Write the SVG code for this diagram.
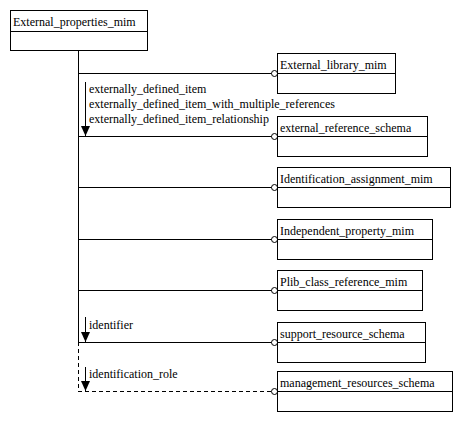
<svg xmlns="http://www.w3.org/2000/svg" width="465" height="422" viewBox="0 0 465 422">
<style>
text{font-family:"Liberation Serif","Times New Roman",serif;font-size:12px;fill:#000}
.box{fill:#fff;stroke:#000;stroke-width:1}
.ln{stroke:#000;stroke-width:1;fill:none}
.dash{stroke-dasharray:4,3}
.circ{fill:#fff;stroke:#000;stroke-width:1}
</style>
<defs>
<marker id="arr" markerWidth="10" markerHeight="10" refX="10" refY="4.5" orient="auto" markerUnits="userSpaceOnUse" viewBox="0 0 10 9">
<path d="M0,0 L10,4.5 L0,9 Z" fill="#000"/>
</marker>
</defs>
<rect width="465" height="422" fill="#fff"/>
<g id="connectors">
<line class="ln" x1="78.5" y1="51" x2="78.5" y2="342"/>
<line class="ln dash" x1="78.5" y1="342" x2="78.5" y2="391.5"/>
<line class="ln" x1="78" y1="73.5" x2="274" y2="73.5"/>
<line class="ln" x1="78" y1="136.5" x2="274" y2="136.5"/>
<line class="ln" x1="78" y1="187.5" x2="274" y2="187.5"/>
<line class="ln" x1="78" y1="239.5" x2="274" y2="239.5"/>
<line class="ln" x1="78" y1="290.5" x2="274" y2="290.5"/>
<line class="ln" x1="78" y1="342.5" x2="274" y2="342.5"/>
<line class="ln dash" x1="78" y1="391.5" x2="274" y2="391.5"/>
<circle class="circ" cx="274.5" cy="73.5" r="3"/>
<circle class="circ" cx="274.5" cy="136.5" r="3"/>
<circle class="circ" cx="274.5" cy="187.5" r="3"/>
<circle class="circ" cx="274.5" cy="239.5" r="3"/>
<circle class="circ" cx="274.5" cy="290.5" r="3"/>
<circle class="circ" cx="274.5" cy="342.5" r="3"/>
<circle class="circ" cx="274.5" cy="391.5" r="3"/>
<line class="ln" x1="85.5" y1="82" x2="85.5" y2="136" marker-end="url(#arr)"/>
<line class="ln" x1="85.5" y1="317" x2="85.5" y2="342" marker-end="url(#arr)"/>
<line class="ln" x1="85.5" y1="367" x2="85.5" y2="391" marker-end="url(#arr)"/>
<text x="89" y="93">externally_defined_item</text>
<text x="89" y="108">externally_defined_item_with_multiple_references</text>
<text x="89" y="123">externally_defined_item_relationship</text>
<text x="89" y="329">identifier</text>
<text x="89" y="378">identification_role</text>
</g>
<g id="External_properties_mim">
<rect class="box" x="10.5" y="10.5" width="137" height="40"/>
<line class="ln" x1="10.5" y1="31.5" x2="147.5" y2="31.5"/>
<text x="13" y="26">External_properties_mim</text>
</g>
<g id="External_library_mim">
<rect class="box" x="277.5" y="53.5" width="118" height="40"/>
<line class="ln" x1="277.5" y1="73.5" x2="395.5" y2="73.5"/>
<text x="280" y="69">External_library_mim</text>
</g>
<g id="external_reference_schema">
<rect class="box" x="277.5" y="116.5" width="150" height="40"/>
<line class="ln" x1="277.5" y1="136.5" x2="427.5" y2="136.5"/>
<text x="280" y="132">external_reference_schema</text>
</g>
<g id="Identification_assignment_mim">
<rect class="box" x="277.5" y="167.5" width="173" height="40"/>
<line class="ln" x1="277.5" y1="187.5" x2="450.5" y2="187.5"/>
<text x="280" y="183">Identification_assignment_mim</text>
</g>
<g id="Independent_property_mim">
<rect class="box" x="277.5" y="219.5" width="155" height="40"/>
<line class="ln" x1="277.5" y1="239.5" x2="432.5" y2="239.5"/>
<text x="280" y="235">Independent_property_mim</text>
</g>
<g id="Plib_class_reference_mim">
<rect class="box" x="277.5" y="270.5" width="145" height="40"/>
<line class="ln" x1="277.5" y1="290.5" x2="422.5" y2="290.5"/>
<text x="280" y="286">Plib_class_reference_mim</text>
</g>
<g id="support_resource_schema">
<rect class="box" x="277.5" y="322.5" width="148" height="40"/>
<line class="ln" x1="277.5" y1="342.5" x2="425.5" y2="342.5"/>
<text x="280" y="338">support_resource_schema</text>
</g>
<g id="management_resources_schema">
<rect class="box" x="277.5" y="371.5" width="175" height="40"/>
<line class="ln" x1="277.5" y1="391.5" x2="452.5" y2="391.5"/>
<text x="280" y="387">management_resources_schema</text>
</g>
</svg>
